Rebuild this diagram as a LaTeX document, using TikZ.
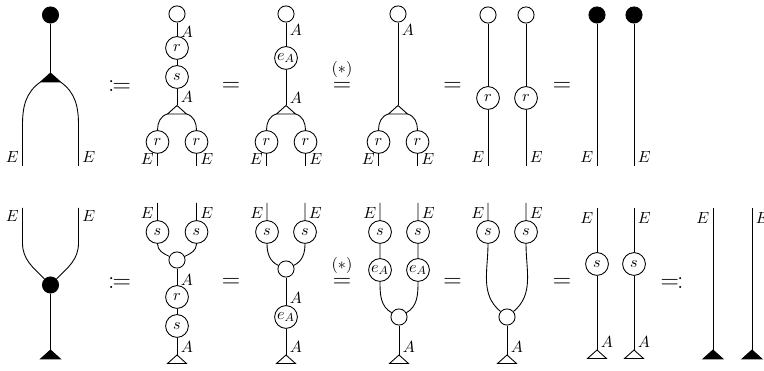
\documentclass[tikz,border=0pt]{standalone}
\usepackage{amsmath}
\usepackage{mathtools}
\usepackage{tikz}
\tikzset{
  mapNode/.style={circle, draw, fill=white, minimum size=15.5pt, inner sep=0pt},
  unitNode/.style={circle, draw, fill=white, minimum size=11pt, inner sep=0pt},
  dotNode/.style={circle, draw, fill=black, minimum size=11pt, inner sep=0pt},
  triWhite/.style={draw, fill=white},
  triBlack/.style={draw, fill=black},
  wireLabel/.style={inner sep=2.3pt},
  eqSign/.style={font=\fontsize{19}{22}\selectfont, inner sep=0pt},
  starLabel/.style={inner sep=0pt}
}

\begin{document}
\begin{tikzpicture}[x=0.68pt, y=0.68pt, line width=0.6pt, font=\fontsize{11}{13}\selectfont]
  \useasboundingbox (0,0) rectangle (764,371);
  % top row
  \node[dotNode] (d1dot) at (50.5,356) {};
  \coordinate (d1t) at (50.5,298);
  \coordinate (d1la) at (22.5,246);
  \coordinate (d1lb) at (22.5,205);
  \coordinate (d1ra) at (78.5,246);
  \coordinate (d1rb) at (78.5,205);
  \draw (d1dot) -- (d1t);
  \draw[triBlack] (d1t) -- ++(-10,-9) coordinate (d1tl) -- ++(20,0) coordinate (d1tr) -- cycle;
  \draw (d1tl) to[out=215,in=90] (d1la) -- (d1lb);
  \draw (d1tr) to[out=-35,in=90] (d1ra) -- (d1rb);
  \node[wireLabel, left] (d1E1) at (22.5,214) {$E$};
  \node[wireLabel, right] (d1E2) at (78.5,214) {$E$};
  \node[eqSign] (q1) at (119.5,284.5) {$\coloneqq$};

  \node[unitNode] (d2u) at (177,357) {};
  \node[mapNode] (d2r) at (177,323) {$r$};
  \node[mapNode] (d2s) at (177,294) {$s$};
  \coordinate (d2t) at (177,265.5);
  \draw (d2u) -- (d2r) -- (d2s) -- (d2t);
  \draw[triWhite] (d2t) -- ++(-9.5,-8.5) coordinate (d2tl) -- ++(19,0) coordinate (d2tr) -- cycle;
  \node[mapNode] (d2r1) at (157.5,229) {$r$};
  \node[mapNode] (d2r2) at (196.5,229) {$r$};
  \coordinate (d2b1) at (157.5,205);
  \coordinate (d2b2) at (196.5,205);
  \draw (d2tl) to[out=195,in=90] (d2r1) -- (d2b1);
  \draw (d2tr) to[out=-15,in=90] (d2r2) -- (d2b2);
  \node[wireLabel, right] (d2A1) at (177,339) {$A$};
  \node[wireLabel, right] (d2A2) at (177,274) {$A$};
  \node[wireLabel, left] (d2E1) at (157.5,212) {$E$};
  \node[wireLabel, right] (d2E2) at (196.5,212) {$E$};
  \node[eqSign] (q2) at (231,284.5) {$=$};

  \node[unitNode] (d3u) at (286,357) {};
  \node[mapNode] (d3e) at (286,313) {$e_A$};
  \coordinate (d3t) at (286,265.5);
  \draw (d3u) -- (d3e) -- (d3t);
  \draw[triWhite] (d3t) -- ++(-9.5,-8.5) coordinate (d3tl) -- ++(19,0) coordinate (d3tr) -- cycle;
  \node[mapNode] (d3r1) at (266.5,229) {$r$};
  \node[mapNode] (d3r2) at (305.5,229) {$r$};
  \coordinate (d3b1) at (266.5,205);
  \coordinate (d3b2) at (305.5,205);
  \draw (d3tl) to[out=195,in=90] (d3r1) -- (d3b1);
  \draw (d3tr) to[out=-15,in=90] (d3r2) -- (d3b2);
  \node[wireLabel, right] (d3A1) at (286,341) {$A$};
  \node[wireLabel, right] (d3A2) at (286,273) {$A$};
  \node[wireLabel, left] (d3E1) at (266.5,212) {$E$};
  \node[wireLabel, right] (d3E2) at (305.5,212) {$E$};
  \node[eqSign] (q3) at (342,284.5) {$=$};
  \node[starLabel] (q3s) at (342,302) {$(*)$};

  \node[unitNode] (d4u) at (398,357) {};
  \coordinate (d4t) at (398,265.5);
  \draw (d4u) -- (d4t);
  \draw[triWhite] (d4t) -- ++(-9.5,-8.5) coordinate (d4tl) -- ++(19,0) coordinate (d4tr) -- cycle;
  \node[mapNode] (d4r1) at (378.5,229) {$r$};
  \node[mapNode] (d4r2) at (417.5,229) {$r$};
  \coordinate (d4b1) at (378.5,205);
  \coordinate (d4b2) at (417.5,205);
  \draw (d4tl) to[out=195,in=90] (d4r1) -- (d4b1);
  \draw (d4tr) to[out=-15,in=90] (d4r2) -- (d4b2);
  \node[wireLabel, right] (d4A1) at (398,341) {$A$};
  \node[wireLabel, left] (d4E1) at (378.5,212) {$E$};
  \node[wireLabel, right] (d4E2) at (417.5,212) {$E$};
  \node[eqSign] (q4) at (452.5,284.5) {$=$};

  \node[unitNode] (d5u1) at (488,356) {};
  \node[unitNode] (d5u2) at (526,356) {};
  \node[mapNode] (d5r1) at (488,273) {$r$};
  \node[mapNode] (d5r2) at (526,273) {$r$};
  \coordinate (d5b1) at (488,205);
  \coordinate (d5b2) at (526,205);
  \draw (d5u1) -- (d5r1) -- (d5b1);
  \draw (d5u2) -- (d5r2) -- (d5b2);
  \node[wireLabel, left] (d5E1) at (488,214) {$E$};
  \node[wireLabel, right] (d5E2) at (526,214) {$E$};
  \node[eqSign] (q5) at (562,284.5) {$=$};

  \node[dotNode] (d6dot1) at (597,356) {};
  \node[dotNode] (d6dot2) at (634,356) {};
  \coordinate (d6b1) at (597,205);
  \coordinate (d6b2) at (634,205);
  \draw (d6dot1) -- (d6b1);
  \draw (d6dot2) -- (d6b2);
  \node[wireLabel, left] (d6E1) at (597,214) {$E$};
  \node[wireLabel, right] (d6E2) at (634,214) {$E$};

  % bottom row
  \coordinate (d7a1) at (22.5,163);
  \coordinate (d7b1) at (22.5,128);
  \coordinate (d7a2) at (78.5,163);
  \coordinate (d7b2) at (78.5,128);
  \node[dotNode] (d7dot) at (50.5,86) {};
  \coordinate (d7t) at (50.5,21);
  \draw (d7a1) -- (d7b1) to[out=-90,in=135] (d7dot);
  \draw (d7a2) -- (d7b2) to[out=-90,in=45] (d7dot);
  \draw (d7dot) -- (d7t);
  \draw[triBlack] (d7t) -- ++(-10,-9) -- ++(20,0) -- cycle;
  \node[wireLabel, left] (d7E1) at (22.5,155) {$E$};
  \node[wireLabel, right] (d7E2) at (78.5,155) {$E$};
  \node[eqSign] (q6) at (119.5,88) {$\coloneqq$};

  \coordinate (d8a1) at (157.5,168);
  \coordinate (d8a2) at (196.5,168);
  \node[mapNode] (d8s1) at (157.5,139) {$s$};
  \node[mapNode] (d8s2) at (196.5,139) {$s$};
  \node[unitNode] (d8m) at (177,111) {};
  \node[mapNode] (d8r) at (177,74) {$r$};
  \node[mapNode] (d8s) at (177,45) {$s$};
  \coordinate (d8t) at (177,16);
  \draw (d8a1) -- (d8s1) to[out=-90,in=155] (d8m);
  \draw (d8a2) -- (d8s2) to[out=-90,in=25] (d8m);
  \draw (d8m) -- (d8r) -- (d8s) -- (d8t);
  \draw[triWhite] (d8t) -- ++(-9.5,-8.5) -- ++(19,0) -- cycle;
  \node[wireLabel, right] (d8A1) at (177,91) {$A$};
  \node[wireLabel, right] (d8A2) at (177,24) {$A$};
  \node[wireLabel, left] (d8E1) at (157.5,158) {$E$};
  \node[wireLabel, right] (d8E2) at (196.5,158) {$E$};
  \node[eqSign] (q7) at (231,88) {$=$};

  \coordinate (d9a1) at (267,168);
  \coordinate (d9a2) at (305,168);
  \node[mapNode] (d9s1) at (267,139) {$s$};
  \node[mapNode] (d9s2) at (305,139) {$s$};
  \node[unitNode] (d9m) at (286,102) {};
  \node[mapNode] (d9e) at (286,54) {$e_A$};
  \coordinate (d9t) at (286,16);
  \draw (d9a1) -- (d9s1) to[out=-90,in=155] (d9m);
  \draw (d9a2) -- (d9s2) to[out=-90,in=25] (d9m);
  \draw (d9m) -- (d9e) -- (d9t);
  \draw[triWhite] (d9t) -- ++(-9.5,-8.5) -- ++(19,0) -- cycle;
  \node[wireLabel, right] (d9A1) at (286,73) {$A$};
  \node[wireLabel, right] (d9A2) at (286,24) {$A$};
  \node[wireLabel, left] (d9E1) at (267,158) {$E$};
  \node[wireLabel, right] (d9E2) at (305,158) {$E$};
  \node[eqSign] (q8) at (342,88) {$=$};
  \node[starLabel] (q8s) at (342,106) {$(*)$};

  \coordinate (d10a1) at (380,168);
  \coordinate (d10a2) at (418,168);
  \node[mapNode] (d10s1) at (380,139) {$s$};
  \node[mapNode] (d10s2) at (418,139) {$s$};
  \node[mapNode] (d10e1) at (380,101) {$e_A$};
  \node[mapNode] (d10e2) at (418,101) {$e_A$};
  \node[unitNode] (d10m) at (399,54) {};
  \coordinate (d10t) at (399,16);
  \draw (d10a1) -- (d10s1) -- (d10e1) to[out=-90,in=150] (d10m);
  \draw (d10a2) -- (d10s2) -- (d10e2) to[out=-90,in=30] (d10m);
  \draw (d10m) -- (d10t);
  \draw[triWhite] (d10t) -- ++(-9.5,-8.5) -- ++(19,0) -- cycle;
  \node[wireLabel, right] (d10A1) at (399,24) {$A$};
  \node[wireLabel, left] (d10E1) at (380,158) {$E$};
  \node[wireLabel, right] (d10E2) at (418,158) {$E$};
  \node[eqSign] (q9) at (452.5,88) {$=$};

  \coordinate (d11a1) at (488,168);
  \coordinate (d11a2) at (526,168);
  \node[mapNode] (d11s1) at (488,139) {$s$};
  \node[mapNode] (d11s2) at (526,139) {$s$};
  \node[unitNode] (d11m) at (507,54) {};
  \coordinate (d11t) at (507,16);
  \draw (d11a1) -- (d11s1) to[out=-90,in=140] (d11m);
  \draw (d11a2) -- (d11s2) to[out=-90,in=40] (d11m);
  \draw (d11m) -- (d11t);
  \draw[triWhite] (d11t) -- ++(-9.5,-8.5) -- ++(19,0) -- cycle;
  \node[wireLabel, right] (d11A1) at (507,24) {$A$};
  \node[wireLabel, left] (d11E1) at (488,158) {$E$};
  \node[wireLabel, right] (d11E2) at (526,158) {$E$};
  \node[eqSign] (q10) at (562,88) {$=$};

  \coordinate (d12a1) at (597,163);
  \coordinate (d12a2) at (634,163);
  \node[mapNode] (d12s1) at (597,107) {$s$};
  \node[mapNode] (d12s2) at (634,107) {$s$};
  \coordinate (d12t1) at (597,21);
  \coordinate (d12t2) at (634,21);
  \draw (d12a1) -- (d12s1) -- (d12t1);
  \draw (d12a2) -- (d12s2) -- (d12t2);
  \draw[triWhite] (d12t1) -- ++(-9.5,-8.5) -- ++(19,0) -- cycle;
  \draw[triWhite] (d12t2) -- ++(-9.5,-8.5) -- ++(19,0) -- cycle;
  \node[wireLabel, right] (d12A1) at (597,29) {$A$};
  \node[wireLabel, right] (d12A2) at (634,29) {$A$};
  \node[wireLabel, left] (d12E1) at (597,153) {$E$};
  \node[wireLabel, right] (d12E2) at (634,153) {$E$};
  \node[eqSign] (q11) at (672,88) {$\eqqcolon$};

  \coordinate (d13a1) at (713,163);
  \coordinate (d13a2) at (752,163);
  \coordinate (d13t1) at (713,21);
  \coordinate (d13t2) at (752,21);
  \draw (d13a1) -- (d13t1);
  \draw (d13a2) -- (d13t2);
  \draw[triBlack] (d13t1) -- ++(-10,-9) -- ++(20,0) -- cycle;
  \draw[triBlack] (d13t2) -- ++(-10,-9) -- ++(20,0) -- cycle;
  \node[wireLabel, left] (d13E1) at (713,153) {$E$};
  \node[wireLabel, right] (d13E2) at (752,153) {$E$};
\end{tikzpicture}
\end{document}
